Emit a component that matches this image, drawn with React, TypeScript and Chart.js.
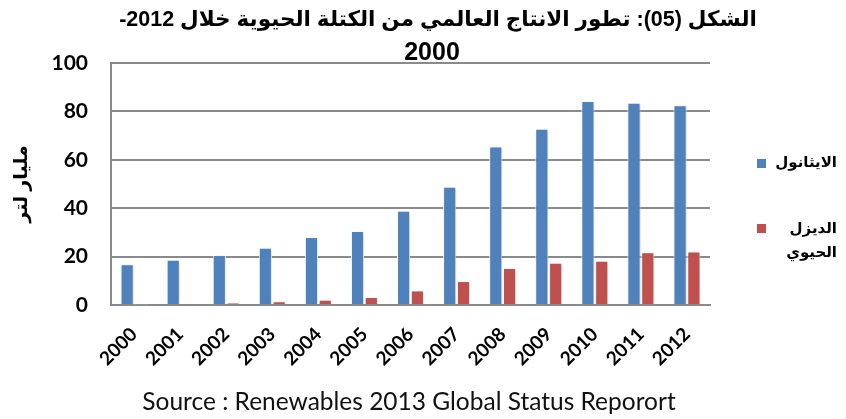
import React, { useEffect, useRef } from "react";
import { Chart, registerables } from "chart.js";

Chart.register(...registerables);

const years = ["2000", "2001", "2002", "2003", "2004", "2005", "2006", "2007", "2008", "2009", "2010", "2011", "2012"];
const ethanol = [16.8, 18.7, 20.6, 23.7, 28.1, 30.6, 38.9, 48.9, 65.5, 72.8, 84.3, 83.6, 82.5];
const biodiesel = [0.2, 0.3, 0.9, 1.5, 2.2, 3.3, 6.0, 9.9, 15.3, 17.5, 18.3, 21.8, 22.1];
const yTicks = [0, 20, 40, 60, 80, 100];

const titleLine1 = "الشكل (05): تطور الانتاج العالمي من الكتلة الحيوية خلال 2012-";
const titleLine2 = "2000";
const yTitle = "مليار لتر";
const legendEthanol = "الايثانول";
const legendBiodiesel1 = "الديزل";
const legendBiodiesel2 = "الحيوي";
const sourceText = "Source : Renewables 2013 Global Status Reporort";

const BLUE = "#4F81BD";
const RED = "#C0504D";
const AR_FONT = "Arial, 'Liberation Sans', 'DejaVu Sans', sans-serif";

const overlay = {
  id: "overlay",
  beforeDatasetsDraw(chart: any) {
    const ctx = chart.ctx;
    ctx.save();
    ctx.shadowColor = "rgba(0,0,0,0.22)";
    ctx.shadowBlur = 3;
    ctx.shadowOffsetX = 1;
    ctx.shadowOffsetY = 1;
  },
  afterDatasetsDraw(chart: any) {
    chart.ctx.restore();
  },
  afterDraw(chart: any) {
    const ctx = chart.ctx;
    ctx.save();
    // title
    ctx.fillStyle = "#000";
    ctx.textBaseline = "middle";
    ctx.textAlign = "center";
    ctx.direction = "rtl";
    ctx.font = "bold 21.5px " + AR_FONT;
    ctx.fillText(titleLine1, 438, 20);
    ctx.font = "bold 25px " + AR_FONT;
    ctx.fillText(titleLine2, 432, 53);
    // legend
    ctx.fillStyle = BLUE;
    ctx.fillRect(757, 159, 9, 9);
    ctx.fillStyle = RED;
    ctx.fillRect(757, 224, 9, 9);
    ctx.fillStyle = "#000";
    ctx.textAlign = "right";
    ctx.font = "bold 15px " + AR_FONT;
    ctx.fillText(legendEthanol, 837, 163);
    ctx.fillText(legendBiodiesel1, 837, 229);
    ctx.fillText(legendBiodiesel2, 837, 253);
    // source
    ctx.direction = "ltr";
    ctx.textAlign = "center";
    ctx.font = "24.5px Lato, 'Open Sans', sans-serif";
    ctx.fillStyle = "#111";
    ctx.fillText(sourceText, 409, 402);
    ctx.restore();
  },
};

export default function App() {
  const ref = useRef<HTMLCanvasElement | null>(null);

  useEffect(() => {
    document.body.style.margin = "0";
    const canvas = ref.current;
    if (!canvas) return;
    const chart = new Chart(canvas, {
      type: "bar",
      data: {
        labels: years,
        datasets: [
          {
            label: legendEthanol,
            data: ethanol,
            backgroundColor: BLUE,
            borderColor: "#ffffff",
            borderWidth: 1,
            categoryPercentage: 0.6,
            barPercentage: 0.95,
          },
          {
            label: legendBiodiesel1 + " " + legendBiodiesel2,
            data: biodiesel,
            backgroundColor: RED,
            borderColor: "#ffffff",
            borderWidth: 1,
            categoryPercentage: 0.6,
            barPercentage: 0.95,
          },
        ],
      },
      options: {
        responsive: false,
        animation: false,
        layout: { padding: { top: 63, right: 136, left: 0, bottom: 0 } },
        plugins: {
          legend: { display: false },
          title: { display: false },
          tooltip: { enabled: false },
        },
        scales: {
          x: {
            grid: { display: false, drawTicks: false },
            border: { display: true, color: "#8a8a8a", width: 2 },
            ticks: {
              color: "#000",
              font: { family: "Lato, 'Open Sans', sans-serif", size: 19, weight: "bold" },
              minRotation: 45,
              maxRotation: 45,
              padding: 18,
              autoSkip: false,
            },
            afterFit: (s: any) => {
              s.height = 114;
            },
          },
          y: {
            min: 0,
            max: 100,
            afterBuildTicks: (s: any) => {
              s.ticks = yTicks.map((v) => ({ value: v }));
            },
            grid: { color: "#8a8a8a", lineWidth: 2, drawTicks: false },
            border: { display: true, color: "#8a8a8a", width: 2 },
            ticks: {
              color: "#000",
              font: { family: "Lato, 'Open Sans', sans-serif", size: 21, weight: "bold" },
              padding: 23,
            },
            title: {
              display: true,
              text: yTitle,
              color: "#000",
              font: { family: AR_FONT, size: 19, weight: "bold" },
              padding: { top: 10, bottom: 0 },
            },
            afterFit: (s: any) => {
              s.width = 111;
            },
          },
        },
      },
      plugins: [overlay],
    });
    return () => chart.destroy();
  }, []);

  return <canvas ref={ref} width={846} height={419} style={{ display: "block" }} />;
}
